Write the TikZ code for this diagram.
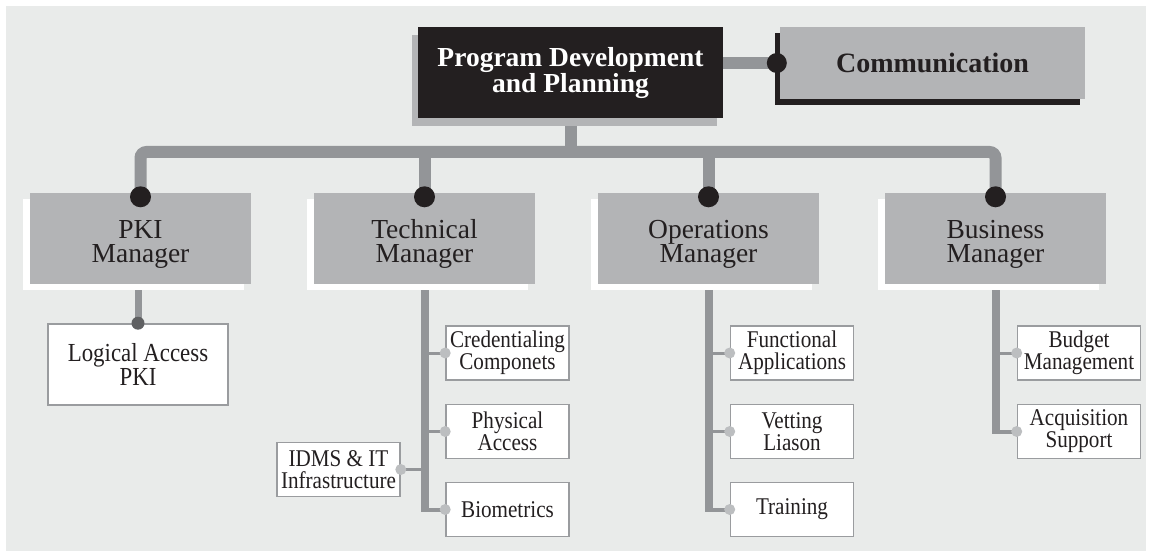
\documentclass[tikz,border=0pt]{standalone}
\usepackage{fontspec}
\setmainfont{Liberation Serif}
\newfontfamily\narrowserif[FakeStretch=0.88]{Liberation Serif}
\usetikzlibrary{shadows,backgrounds}

\definecolor{bggray}{HTML}{E9EBEA}
\definecolor{boxgray}{HTML}{B3B4B6}
\definecolor{linegray}{HTML}{939598}
\definecolor{framegray}{HTML}{9A9C9F}
\definecolor{inkdark}{HTML}{231F20}
\definecolor{subdot}{HTML}{BCBEC0}
\definecolor{pkidot}{HTML}{5F6062}

\begin{document}
\begin{tikzpicture}[x=1pt,y=-1pt,
    chiefbox/.style={fill=inkdark, text=white, minimum width=305pt, minimum height=91pt,
      inner sep=0pt, align=center, font=\bfseries\fontsize{27.5}{26}\selectfont,
      drop shadow={shadow xshift=-6pt, shadow yshift=-8pt, fill=boxgray, opacity=1}},
    commbox/.style={fill=boxgray, text=inkdark, minimum width=305pt, minimum height=72pt,
      inner sep=0pt, font=\bfseries\fontsize{28}{28}\selectfont,
      drop shadow={shadow xshift=-5pt, shadow yshift=-6pt, fill=inkdark, opacity=1}},
    mgrbox/.style={fill=boxgray, text=inkdark, minimum width=221pt, minimum height=91pt,
      inner sep=0pt, align=center, text height=48pt, text depth=0pt,
      font=\fontsize{27.5}{24}\selectfont,
      drop shadow={shadow xshift=-7pt, shadow yshift=-6pt, fill=white, opacity=1}},
    taskbox/.style={draw=framegray, line width=1.6pt, fill=white, text=inkdark,
      minimum width=123pt, minimum height=54pt, inner sep=1pt, align=center,
      font=\narrowserif\fontsize{24}{22}\selectfont},
    bus/.style={draw=linegray, line width=12pt},
    stem/.style={draw=linegray, line width=8pt},
    branch/.style={draw=linegray, line width=3pt},
  ]
  \useasboundingbox (0,0) rectangle (1150,553);

  % top row
  \node[chiefbox] (main) at (570.5,72.5) {Program Development\\and Planning};
  \node[commbox] (comm) at (932.5,63) {Communication};

  % managers
  \node[mgrbox] (pki)  at (140.5,238.5) {PKI\\Manager};
  \node[mgrbox] (tech) at (424.5,238.5) {Technical\\Manager};
  \node[mgrbox] (ops)  at (708.5,238.5) {Operations\\Manager};
  \node[mgrbox] (biz)  at (995.5,238.5) {Business\\Manager};

  % tasks
  \node[taskbox, minimum width=180pt, minimum height=81pt,
    font=\narrowserif\fontsize{26}{24}\selectfont] (logic) at (138,364.5) {Logical Access\\PKI};
  \node[taskbox] (cred)   at (507.5,353)   {Credentialing\\Componets};
  \node[taskbox] (phys)   at (507.5,431.5) {Physical\\Access};
  \node[taskbox] (bio)    at (507.5,509.5) {Biometrics};
  \node[taskbox] (idms)   at (338.5,469.5) {IDMS \& IT\\Infrastructure};
  \node[taskbox] (func)   at (792,353)     {Functional\\Applications};
  \node[taskbox] (vet)    at (792,431.5)   {Vetting\\Liason};
  \node[taskbox] (train)  at (792,509.5)   {Training};
  \node[taskbox] (budget) at (1079,353)    {Budget\\Management};
  \node[taskbox] (acq)    at (1079,431.5)  {Acquisition\\Support};

  \begin{scope}[on background layer]
    \fill[bggray] (6,6) rectangle (1146,551);
    \coordinate (bus) at (570.5,152); % level of the main bar
    \draw[bus] (main.south) -- (bus);
    \draw[bus, rounded corners=6pt] (pki.north) -- (pki.north |- bus)
      -- (biz.north |- bus) -- (biz.north);
    \foreach \m in {tech,ops}
      \draw[bus] (\m.north |- bus) -- (\m.north);
    \draw[bus] (main.east |- comm.west) -- (comm.west);

    \draw[stem, line width=7pt] (logic.north |- pki.south) -- (logic.north);
    \foreach \mgr/\tasks/\last in {tech/{cred,phys}/bio, ops/{func,vet}/train, biz/{budget}/acq} {
      \draw[stem] (\mgr.south) -- ([yshift=-2pt]\mgr.south |- \last.west);
      \draw[branch, line width=4pt] (\mgr.south |- \last.west) -- (\last.west);
      \foreach \t in \tasks
        \draw[branch] (\mgr.south |- \t.west) -- (\t.west);
    }
    \draw[branch] (tech.south |- idms.east) -- (idms.east);
  \end{scope}

  % dots
  \foreach \m in {pki,tech,ops,biz}
    \fill[inkdark] ([yshift=-4pt]\m.north) circle (10.5pt);
  \fill[inkdark] ([xshift=-3pt]comm.west) circle (10pt);
  \fill[pkidot] (logic.north) circle (6.5pt);
  \foreach \t in {cred,phys,bio,func,vet,train,budget,acq}
    \fill[subdot] (\t.west) circle (5.5pt);
  \fill[subdot] (idms.east) circle (5.5pt);
\end{tikzpicture}
\end{document}
